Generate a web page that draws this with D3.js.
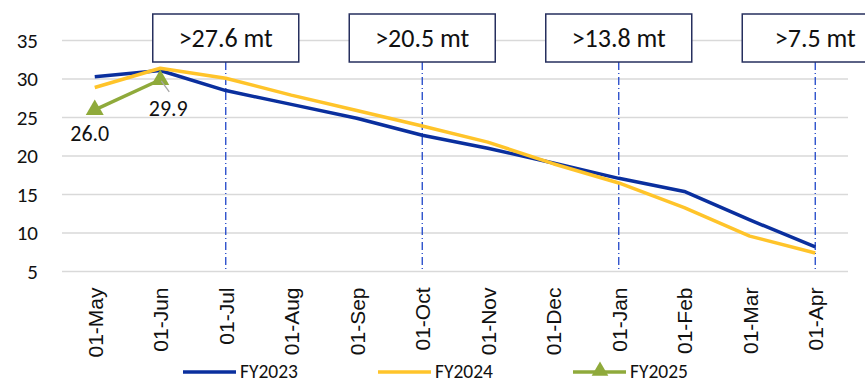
<!DOCTYPE html>
<html>
<head>
<meta charset="utf-8">
<script src="https://cdn.jsdelivr.net/npm/d3@7"></script>
<style>
  html, body { margin: 0; padding: 0; background: #fff; }
  svg { display: block; }
</style>
</head>
<body>
<svg id="chart" width="865" height="383"></svg>
<script>
// Monthly stock levels (mt) across fiscal years
const months = ["01-May","01-Jun","01-Jul","01-Aug","01-Sep","01-Oct","01-Nov","01-Dec","01-Jan","01-Feb","01-Mar","01-Apr"];
const fy2023 = [30.3, 31.1, 28.5, 26.7, 24.9, 22.7, 21.0, 19.1, 17.1, 15.4, 11.7, 8.2];
const fy2024 = [28.9, 31.4, 30.1, 27.9, 25.9, 23.9, 21.8, 19.0, 16.5, 13.3, 9.6, 7.4];
const fy2025 = [26.0, 29.9];
const yTicks = [5, 10, 15, 20, 25, 30, 35];

// Quarterly thresholds marked by dashed lines and boxes
const markerMonths = ["01-Jul", "01-Oct", "01-Jan", "01-Apr"];
const markerLabels = [">27.6 mt", ">20.5 mt", ">13.8 mt", ">7.5 mt"];

const seriesNames = ["FY2023", "FY2024", "FY2025"];
const colors = ["#0a2f9e", "#ffc42a", "#8faa3b"];

const svg = d3.select("#chart");
const plot = { left: 62, right: 848, top: 40.5, bottom: 271.5 };

const step = (plot.right - plot.left) / months.length;
const x = d3.scalePoint().domain(months).range([plot.left + step / 2, plot.right - step / 2]);
const y = d3.scaleLinear().domain([5, 35]).range([plot.bottom, plot.top]);

const uiFont = "Carlito, Lato, 'Open Sans', sans-serif";

// Horizontal gridlines
svg.append("g").selectAll("line").data(yTicks).join("line")
  .attr("x1", plot.left).attr("x2", plot.right)
  .attr("y1", d => y(d)).attr("y2", d => y(d))
  .attr("stroke", "#d9d9d9").attr("stroke-width", 1.5);

// Y axis labels
const yAxis = d3.axisLeft(y).tickValues(yTicks).tickSize(0).tickPadding(0);
const yg = svg.append("g").attr("transform", "translate(38,0)").call(yAxis);
yg.select(".domain").remove();
yg.selectAll("text").attr("font-family", uiFont).attr("font-size", 21).attr("fill", "#111");

// X axis labels, rotated
const xAxis = d3.axisBottom(x).tickSize(0).tickPadding(0);
const xg = svg.append("g").attr("transform", `translate(0,${plot.bottom})`).call(xAxis);
xg.select(".domain").remove();
xg.selectAll("text")
  .attr("font-family", "'Liberation Sans', Arial, sans-serif").attr("font-size", 21).attr("fill", "#111")
  .attr("transform", "rotate(-90)")
  .attr("text-anchor", "end")
  .attr("x", -16).attr("y", 0).attr("dy", "0.35em");

// Dashed vertical markers
svg.append("g").selectAll("line").data(markerMonths).join("line")
  .attr("x1", d => x(d)).attr("x2", d => x(d))
  .attr("y1", 62).attr("y2", plot.bottom)
  .attr("stroke", "#1f45c8").attr("stroke-width", 1.3)
  .attr("stroke-dasharray", "8,3,1,3");

// Lines
const line = d3.line().x((d, i) => x(months[i])).y(d => y(d));
[fy2023, fy2024, fy2025].forEach((s, k) => {
  svg.append("path").datum(s)
    .attr("d", line).attr("fill", "none")
    .attr("stroke", colors[k]).attr("stroke-width", 3.5)
    .attr("stroke-linejoin", "round");
});

// FY2025 triangle markers
const tri = d3.symbol().type(d3.symbolTriangle).size(140);
svg.append("g").selectAll("path").data(fy2025).join("path")
  .attr("d", tri)
  .attr("transform", (d, i) => `translate(${x(months[i])},${y(d)})`)
  .attr("fill", colors[2]);

// Leader line and value labels
svg.append("line")
  .attr("x1", x(months[1]) + 1).attr("y1", y(fy2025[1]) + 1)
  .attr("x2", x(months[1]) + 9).attr("y2", y(fy2025[1]) + 12)
  .attr("stroke", "#a6a6a6").attr("stroke-width", 1.3);
svg.append("text").attr("x", x(months[0]) - 5).attr("y", y(fy2025[0]) + 31)
  .attr("text-anchor", "middle").attr("font-family", uiFont).attr("font-size", 22).attr("fill", "#111")
  .text(fy2025[0].toFixed(1));
svg.append("text").attr("x", x(months[1]) + 8).attr("y", y(fy2025[1]) + 36)
  .attr("text-anchor", "middle").attr("font-family", uiFont).attr("font-size", 22).attr("fill", "#111")
  .text(fy2025[1].toFixed(1));

// Threshold boxes
const bw = 146, bh = 48, by = 14;
const boxes = svg.append("g").selectAll("g").data(markerMonths).join("g")
  .attr("transform", d => `translate(${x(d) - bw / 2},${by})`);
boxes.append("rect").attr("width", bw).attr("height", bh)
  .attr("fill", "#fff").attr("stroke", "#262f5e").attr("stroke-width", 1.5);
boxes.append("text").attr("x", bw / 2).attr("y", bh / 2).attr("dy", "0.36em")
  .attr("text-anchor", "middle").attr("font-family", uiFont).attr("font-size", 26).attr("fill", "#111")
  .text((d, i) => markerLabels[i]);

// Legend
const legendX = [183, 378, 573];
const lg = svg.append("g").selectAll("g").data(seriesNames).join("g")
  .attr("transform", (d, i) => `translate(${legendX[i]},372)`);
lg.append("line").attr("x1", 0).attr("x2", 53).attr("y1", 0).attr("y2", 0)
  .attr("stroke", (d, i) => colors[i]).attr("stroke-width", 3.5);
lg.filter((d, i) => i === 2).append("path").attr("d", d3.symbol().type(d3.symbolTriangle).size(120))
  .attr("transform", "translate(27,-1)").attr("fill", colors[2]);
lg.append("text").attr("x", 57).attr("y", 6)
  .attr("font-family", uiFont).attr("font-size", 19.5).attr("fill", "#111")
  .text(d => d);
</script>
</body>
</html>
